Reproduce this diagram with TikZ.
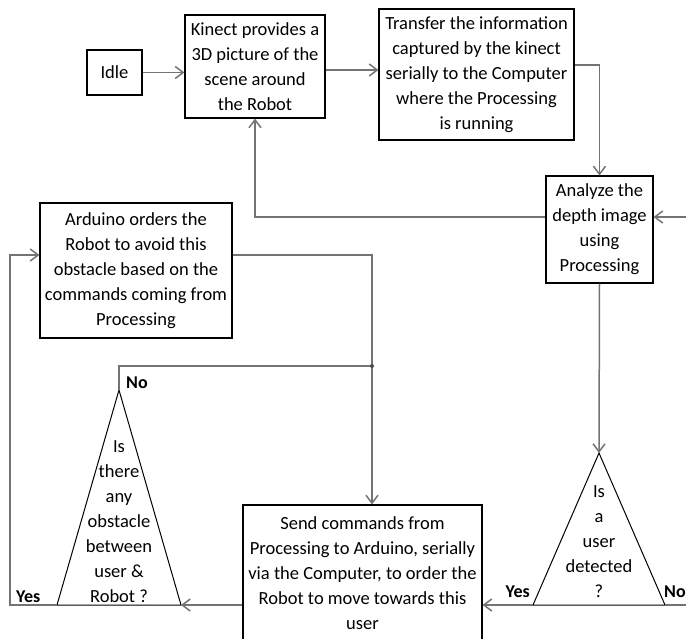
\documentclass[tikz,border=0pt]{standalone}
\usepackage{fontspec}
\setmainfont{Carlito}
\usetikzlibrary{arrows.meta}
\begin{document}
\begin{tikzpicture}[x=1pt,y=-1pt,
    box/.style={shape=rectangle,draw=black,line width=1.1pt,align=center,inner sep=1pt,font=\fontsize{18.5}{25}\selectfont},
    decision/.style={draw=black,line width=1pt},
    dtext/.style={align=center,inner sep=0pt,font=\fontsize{18.5}{25}\selectfont},
    conn/.style={draw=black!55,line width=1.5pt,-{Straight Barb[length=8pt,width=12pt]}},
    plain/.style={draw=black!55,line width=1.5pt},
    lbl/.style={inner sep=0pt,font=\fontsize{18}{20}\selectfont\bfseries}]
    \useasboundingbox (0,0) rectangle (686,639);
    % vertices
    \node[box,minimum width=55pt,minimum height=45pt] (idle) at (114.5,72.5) {Idle};
    \node[box,minimum width=140pt,minimum height=103pt] (kinect) at (255,66.5) {Kinect provides a\\3D picture of the\\scene around\\the Robot};
    \node[box,minimum width=195pt,minimum height=131pt] (transfer) at (476.5,74.5) {Transfer the information\\captured by the kinect\\serially to the Computer\\where the Processing\\is running};
    \node[box,minimum width=107pt,minimum height=107pt] (analyze) at (599.5,229.5) {Analyze the\\depth image\\using\\Processing};
    \node[box,minimum width=192pt,minimum height=135pt] (arduino) at (136,270.5) {Arduino orders the\\Robot to avoid this\\obstacle based on the\\commands coming from\\Processing};
    \node[box,minimum width=239pt,minimum height=137pt] (send) at (362.5,573.5) {Send commands from\\Processing to Arduino, serially\\via the Computer, to order the\\Robot to move towards this\\user};
    % decisions
    \coordinate (userapex) at (599,453);
    \coordinate (userleft) at (533,605);
    \coordinate (userright) at (665,605);
    \draw[decision] (userapex) -- (userright) -- (userleft) -- cycle;
    \node[dtext] (usertext) at (599,542) {Is\\a\\user\\detected\\?};
    \coordinate (obstapex) at (119,390);
    \coordinate (obstleft) at (57,605);
    \coordinate (obstright) at (181,605);
    \draw[decision] (obstapex) -- (obstright) -- (obstleft) -- cycle;
    \node[dtext] (obsttext) at (119,521.5) {Is\\there\\any\\obstacle\\between\\user \&\\Robot ?};
    \coordinate (junc) at (372,366);
    \coordinate (rtop) at (690,217);
    \coordinate (rbot) at (690,605);
    % labels
    \node[lbl,anchor=west] (userno) at (664,592) {No};
    \node[lbl,anchor=east] (useryes) at (530,592) {Yes};
    \node[lbl,anchor=west] (obstno) at (126,383) {No};
    \node[lbl,anchor=west] (obstyes) at (16,597) {Yes};
    % edges
    \path[conn] (idle) -- (idle -| kinect.west);
    \path[conn] (kinect.east |- 0,70) -- (transfer.west |- 0,70);
    \path[conn] (transfer.east |- 0,65) -| (analyze.north);
    \path[conn] (analyze.west |- rtop) -| (kinect.south);
    \path[conn] (rtop) -- (analyze.east |- rtop);
    \path[conn] (analyze.south) -- (userapex);
    \path[conn] (userleft) -- (send.east |- userleft);
    \path[plain] (userright) -- (rbot);
    \path[conn] (send.west |- obstright) -- (obstright);
    \path[conn] (obstleft) -- (10,605) |- (arduino.west |- 0,255);
    \path[conn] (arduino.east |- 0,255) -| (junc) -- (junc |- send.north);
    \path[plain] (obstapex) |- (junc);
    \fill[black!70] (junc) circle (2pt);
\end{tikzpicture}
\end{document}
